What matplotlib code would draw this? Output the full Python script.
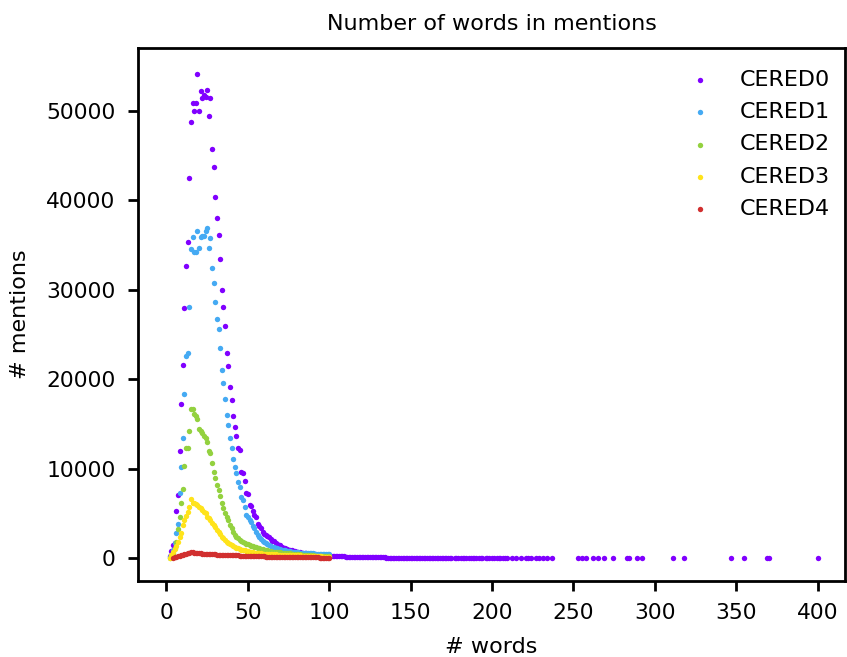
import matplotlib
matplotlib.use("Agg")
import matplotlib.pyplot as plt

# ---------------- data ----------------
labels = ["CERED0", "CERED1", "CERED2", "CERED3", "CERED4"]
colors = ["#8000ff", "#45aaf3", "#93d13f", "#ffe31a", "#d12f2f"]

words0 = list(range(2, 176)) + [
    177, 178, 179, 181, 182, 183, 184, 186, 187, 188, 189, 190, 192, 193, 194, 196,
    197, 198, 200, 201, 203, 204, 205, 207, 208, 209, 212, 215, 218, 221, 222, 224,
    227, 229, 231, 234, 237, 253, 255, 258, 262, 265, 269, 274, 283, 284, 289, 292,
    311, 318, 347, 355, 369, 370, 400]
mentions0 = [
    250, 750, 1400, 1650, 5200, 7000, 11950, 17200, 21600, 27900,          # 2-11
    32650, 35350, 42500, 48700, 50850, 49950, 50850, 54100, 49950, 52150,   # 12-21
    51450, 51750, 51550, 52300, 49400, 51400, 45750, 43650, 40400, 38000,   # 22-31
    36100, 33400, 29950, 28050, 25900, 22900, 21450, 19150, 17650, 15900,   # 32-41
    14650, 13650, 12300, 12050, 9650, 9450, 8600, 7250, 7150, 5900,         # 42-51
    5850, 5200, 4800, 4550, 3750, 3550, 3400, 2950, 2700, 2550,             # 52-61
    2450, 2300, 2100, 1900, 1850, 1700, 1550, 1500, 1450, 1250,             # 62-71
    1150, 1100, 1050, 950, 900, 850, 800, 760, 720, 680,                    # 72-81
    640, 600, 570, 540, 510, 480, 460, 440, 420, 400,                       # 82-91
    380, 360, 340, 330, 310, 300, 285, 270, 260, 245,                       # 92-101
    235, 225, 215, 205, 195, 185, 180, 170, 165, 160,                       # 102-111
    150, 145, 140, 130, 125, 120, 115, 110, 105, 100,                       # 112-121
    96, 92, 88, 85, 80, 78, 75, 72, 68, 65,                                 # 122-131
    62, 60, 58, 55, 52, 50, 48, 46, 44, 42,                                 # 132-141
    40, 38, 37, 35, 34, 32, 31, 30, 28, 27,                                 # 142-151
    26, 25, 24, 23, 22, 21, 20, 19, 18, 18,                                 # 152-161
    17, 16, 15, 15, 14, 13, 13, 12, 12, 11,                                 # 162-171
    11, 10, 10, 9,                                                          # 172-175
    9, 9, 8, 8, 8, 7, 7, 7, 6, 6, 6, 6, 5, 5, 5, 5,
    4, 4, 4, 4, 4, 3, 3, 3, 3, 3, 3, 2, 2, 2, 2, 2,
    2, 2, 2, 2, 2, 1, 1, 1, 1, 1, 1, 1, 1, 1, 1, 1,
    1, 1, 1, 1, 1, 1, 1]

words1 = list(range(2, 101))
mentions1 = [
    80, 350, 900, 1700, 2830, 3800, 7230, 10170, 13410, 18300,              # 2-11
    22620, 22880, 28020, 34500, 35850, 34240, 34240, 36590, 34620, 35850,   # 12-21
    35990, 35990, 36590, 36900, 34620, 35730, 32450, 30770, 28580, 26680,   # 22-31
    25600, 23470, 20980, 19530, 17740, 15980, 14870, 13380, 12260, 11070,   # 32-41
    10140, 9540, 8530, 7970, 6780, 6480, 5730, 4810, 4620, 4250,            # 42-51
    4060, 3580, 3320, 2900, 2570, 2310, 2150, 1940, 1800, 1640,             # 52-61
    1550, 1450, 1350, 1260, 1200, 1130, 1080, 1010, 960, 920,               # 62-71
    890, 860, 820, 780, 740, 710, 690, 670, 650, 630,                       # 72-81
    615, 600, 590, 580, 590, 570, 550, 530, 520, 500,                       # 82-91
    490, 475, 460, 450, 440, 430, 420, 410, 400]                            # 92-100

words2 = list(range(2, 101))
mentions2 = [
    50, 250, 600, 1100, 1800, 3200, 4550, 6150, 7750, 10280,                # 2-11
    12250, 12300, 14200, 16600, 16650, 16050, 15900, 15500, 14400, 14200,   # 12-21
    13950, 13650, 13400, 12950, 11950, 11750, 10600, 9650, 8900, 8150,      # 22-31
    7600, 6950, 6200, 5550, 5000, 4550, 4250, 3700, 3300, 2950,             # 32-41
    2600, 2400, 2200, 2050, 1950, 1830, 1700, 1600, 1520, 1450,             # 42-51
    1380, 1300, 1250, 1180, 1120, 1080, 1020, 970, 930, 890,                # 52-61
    850, 810, 770, 720, 700, 680, 660, 640, 620, 600,                       # 62-71
    585, 570, 555, 540, 520, 500, 480, 460, 440, 420,                       # 72-81
    400, 380, 360, 345, 330, 315, 300, 290, 280, 270,                       # 82-91
    260, 250, 240, 230, 220, 215, 210, 205, 200]                            # 92-100

words3 = list(range(2, 101))
mentions3 = [
    50, 300, 700, 1000, 1340, 1790, 2380, 2830, 3650, 4250,                 # 2-11
    4700, 5140, 5670, 6560, 6110, 6200, 6040, 5920, 5750, 5600,             # 12-21
    5370, 5150, 4990, 4620, 4450, 4250, 3950, 3700, 3430, 3150,             # 22-31
    2900, 2650, 2400, 2200, 2000, 1830, 1700, 1550, 1450, 1350,             # 32-41
    1250, 1150, 1080, 1000, 940, 890, 840, 790, 750, 710,                   # 42-51
    670, 630, 600, 570, 550, 530, 510, 490, 470, 455,                       # 52-61
    445, 435, 425, 415, 405, 395, 385, 375, 365, 355,                       # 62-71
    350, 345, 342, 340, 338, 330, 320, 310, 300, 290,                       # 72-81
    280, 270, 260, 250, 240, 230, 220, 210, 200, 195,                       # 82-91
    190, 180, 175, 170, 165, 160, 155, 150, 150]                            # 92-100

words4 = list(range(4, 101))
mentions4 = [
    30, 80, 150, 200, 250, 300, 350, 400, 450, 520,                         # 4-13
    600, 650, 620, 600, 580, 560, 540, 520, 500, 480,                       # 14-23
    460, 450, 440, 430, 420, 410, 400, 390, 380, 370,                       # 24-33
    360, 350, 340, 330, 320, 310, 300, 295, 290, 285,                       # 34-43
    280, 275, 260, 250, 245, 240, 230, 220, 215, 210,                       # 44-53
    200, 195, 190, 185, 180, 175, 170, 165, 160, 155,                       # 54-63
    150, 145, 140, 135, 130, 125, 120, 118, 115, 112,                       # 64-73
    110, 105, 100, 98, 95, 92, 90, 88, 85, 82,                              # 74-83
    80, 78, 75, 72, 70, 68, 65, 62, 60, 58,                                 # 84-93
    55, 52, 50, 50, 50, 50, 50]                                             # 94-100

series_x = [words0, words1, words2, words3, words4]
series_y = [mentions0, mentions1, mentions2, mentions3, mentions4]

# ---------------- figure ----------------
plt.rcParams['font.family'] = ['DejaVu Sans']
fig = plt.figure(figsize=(8.47, 6.57), dpi=100)
ax = fig.add_axes([138/847, 1 - 581/657, (845 - 138)/847, (581 - 48)/657])

for xs, ys, c, lab in zip(series_x, series_y, colors, labels):
    ax.scatter(xs, ys, s=15, color=c, linewidths=0, label=lab)

ax.set_xlim(-17.5, 416.8)
ax.set_ylim(-2570, 57000)
ax.set_xticks([0, 50, 100, 150, 200, 250, 300, 350, 400])
ax.set_yticks([0, 10000, 20000, 30000, 40000, 50000])

for sp in ax.spines.values():
    sp.set_linewidth(2)
ax.tick_params(axis='both', which='major', length=7, width=2, pad=9, labelsize=15.7)

ax.set_title("Number of words in mentions", fontsize=16, pad=13)
ax.set_xlabel("# words", fontsize=16, labelpad=10)
ax.set_ylabel("# mentions", fontsize=16, labelpad=12)

leg = ax.legend(loc='upper right', frameon=False, fontsize=16, scatterpoints=1,
                markerscale=1, labelspacing=0.55, handletextpad=0.8,
                handlelength=2.0, borderaxespad=0.0,
                bbox_to_anchor=(1.0 - 6/707, 1.0 - 13/533))

fig.savefig("out.png", dpi=100)
